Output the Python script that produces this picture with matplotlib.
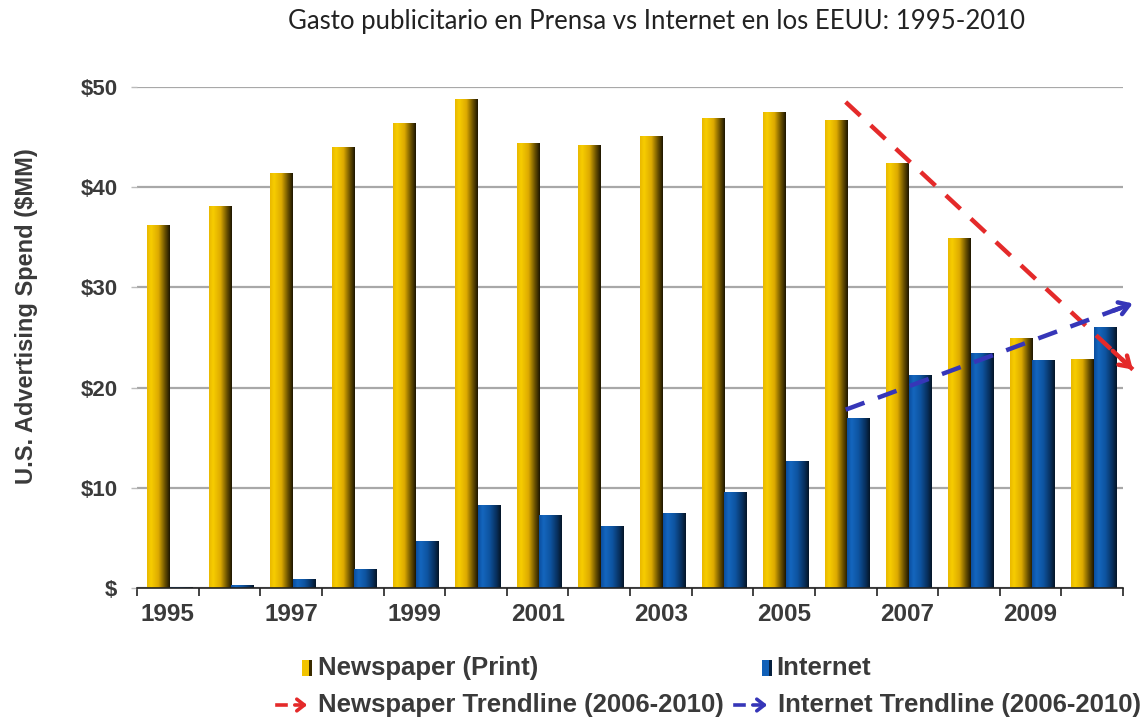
import numpy as np
import matplotlib
matplotlib.use("Agg")
import matplotlib.pyplot as plt
from matplotlib.colors import LinearSegmentedColormap
from matplotlib.patches import Rectangle, FancyArrowPatch

# ---------------- data ----------------
years = list(range(1995, 2011))
newspaper = [36.2, 38.1, 41.4, 44.0, 46.4, 48.8, 44.4, 44.2, 45.1, 46.9, 47.5, 46.7, 42.4, 34.9, 25.0, 22.9]
internet = [0.1, 0.3, 0.9, 1.9, 4.7, 8.3, 7.3, 6.2, 7.5, 9.6, 12.7, 17.0, 21.3, 23.5, 22.8, 26.0]
trend_years = [2006.0, 2010.66]
newspaper_trend = [48.5, 21.8]
internet_trend = [17.8, 28.4]
yticks = [0, 10, 20, 30, 40, 50]
ytick_labels = ["$", "$10", "$20", "$30", "$40", "$50"]
xtick_years = list(range(1995, 2011, 2))
title = "Gasto publicitario en Prensa vs Internet en los EEUU: 1995-2010"
ylabel = "U.S. Advertising Spend ($MM)"
legend_labels = ["Newspaper (Print)", "Internet",
                 "Newspaper Trendline (2006-2010)", "Internet Trendline (2006-2010)"]

# ---------------- style ----------------
gold_cmap = LinearSegmentedColormap.from_list(
    "gold", [(0.0, "#E9B800"), (0.18, "#F7CD00"), (0.5, "#DDAA00"),
             (0.78, "#6B5200"), (1.0, "#1C1500")])
blue_cmap = LinearSegmentedColormap.from_list(
    "blue", [(0.0, "#0B4E9E"), (0.2, "#1466BE"), (0.5, "#0E54A0"),
             (0.8, "#08305E"), (1.0, "#041526")])
red_c = "#E42A2A"
blue_c = "#3636B8"
text_c = "#3A3A3A"
bold_font = ["Liberation Sans", "DejaVu Sans"]

fig = plt.figure(figsize=(11.45, 7.22), dpi=100)
ax = fig.add_axes([137 / 1145, 1 - 588 / 722, 986 / 1145, (588 - 87) / 722])

w = 0.357
x = np.array(years, dtype=float)
bars_n = ax.bar(x - 0.16, newspaper, width=w, facecolor="none", edgecolor="none", zorder=3)
bars_i = ax.bar(x + 0.206, internet, width=w, facecolor="none", edgecolor="none", zorder=3)

grad = np.linspace(0, 1, 256).reshape(1, -1)
for bars, cmap in ((bars_n, gold_cmap), (bars_i, blue_cmap)):
    for b in bars:
        x0, y0, bw, bh = b.get_x(), b.get_y(), b.get_width(), b.get_height()
        im = ax.imshow(grad, extent=[x0, x0 + bw, y0, y0 + bh], cmap=cmap,
                       aspect="auto", zorder=3, interpolation="bilinear")
        im.set_clip_path(b)

ax.set_xlim(1994.5, 2010.5)
ax.set_ylim(0, 50)

# trendlines
for vals, col in ((newspaper_trend, red_c), (internet_trend, blue_c)):
    ax.plot(trend_years, vals, color=col, lw=3.2, dashes=(4.5, 3.2),
            zorder=5, clip_on=False, solid_capstyle="butt")
    t = 0.93
    xs = trend_years[0] + t * (trend_years[1] - trend_years[0])
    ys = vals[0] + t * (vals[1] - vals[0])
    ax.annotate("", xy=(trend_years[1], vals[1]), xytext=(xs, ys),
                arrowprops=dict(arrowstyle="->,head_length=0.7,head_width=0.45",
                                color=col, lw=3.2, shrinkA=0, shrinkB=0),
                zorder=6, annotation_clip=False)

# grid and axes
ax.set_yticks(yticks)
ax.set_yticklabels(ytick_labels)
ax.yaxis.grid(True, color="#A8A8A8", lw=1.6, zorder=0)
ax.set_axisbelow(True)
for s in ("top", "right", "left"):
    ax.spines[s].set_visible(False)
ax.spines["bottom"].set_color("#222222")
ax.spines["bottom"].set_linewidth(1.2)
ax.spines["bottom"].set_zorder(4)

ax.set_xticks(xtick_years)
ax.set_xticklabels([str(y) for y in xtick_years])
ax.set_xticks(np.arange(1994.5, 2011.0, 1.0), minor=True)
ax.tick_params(axis="x", which="major", length=0, pad=11, labelsize=17.5,
               labelcolor=text_c)
ax.tick_params(axis="x", which="minor", length=6, width=1.2, color="#222222")
ax.tick_params(axis="y", length=4, width=1, color="#BBBBBB", pad=10, labelsize=16,
               labelcolor=text_c)
for lab in ax.get_xticklabels() + ax.get_yticklabels():
    lab.set_fontweight("bold")
    lab.set_family(bold_font)

fig.text(27 / 1145, 1 - 316 / 722, ylabel, rotation=90, ha="center", va="center",
         fontsize=17, fontweight="bold", color=text_c, family=bold_font)

fig.text(657 / 1145, 1 - 22 / 722, title, ha="center", va="center",
         fontsize=18.5, color="#222222", family=["Lato", "DejaVu Sans"])

# legend (manual)
def fx(px):
    return px / 1145

def fy(py):
    return 1 - py / 722

r1, r2 = 668, 705
for x0, c1, c2 in ((302, "#F2C400", "#3A2C00"), (762, "#1060B8", "#06203F")):
    fig.patches.append(Rectangle((fx(x0), fy(r1 + 8)), 7 / 1145, 16 / 722,
                                 transform=fig.transFigure, facecolor=c1,
                                 edgecolor="none"))
    fig.patches.append(Rectangle((fx(x0 + 7), fy(r1 + 8)), 3 / 1145, 16 / 722,
                                 transform=fig.transFigure, facecolor=c2,
                                 edgecolor="none"))
for (xa, xb), col in (((277, 310), red_c), ((735, 770), blue_c)):
    fig.lines.append(plt.Line2D([fx(xa), fx(xa + 9)], [fy(r2), fy(r2)],
                                transform=fig.transFigure, color=col, lw=2.6))
    fig.patches.append(FancyArrowPatch(
        (fx(xa + 15), fy(r2)), (fx(xb), fy(r2)), transform=fig.transFigure,
        arrowstyle="->,head_length=0.45,head_width=0.35", color=col, lw=2.6,
        mutation_scale=12))

for (px, py), lab in zip(((318, r1), (776, r1), (318, r2), (778, r2)), legend_labels):
    fig.text(fx(px), fy(py), lab, ha="left", va="center", fontsize=18.5,
             fontweight="bold", color=text_c, family=bold_font)

fig.savefig("out.png", dpi=100)
